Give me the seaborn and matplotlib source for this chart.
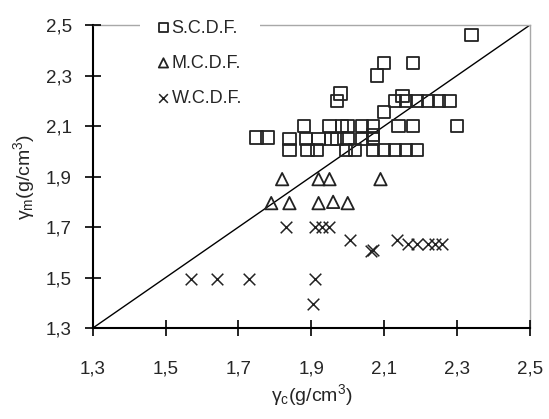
import matplotlib
matplotlib.use("Agg")
import matplotlib.pyplot as plt
import seaborn as sns
import pandas as pd

# --- data ------------------------------------------------------------------
scdf_x = [2.34, 2.10, 2.18, 2.08, 1.98, 1.97,
          2.13, 2.15, 2.16, 2.19, 2.22, 2.25, 2.28, 2.10,
          1.88, 1.95, 1.985, 2.00, 2.04, 2.07, 2.14, 2.18, 2.30,
          1.75, 1.78, 1.84, 1.885, 1.92, 1.955, 1.97, 2.00, 2.04, 2.07, 2.07,
          1.84, 1.89, 1.915, 1.995, 2.02, 2.07, 2.10, 2.13, 2.16, 2.19]
scdf_y = [2.46, 2.35, 2.35, 2.30, 2.23, 2.20,
          2.20, 2.22, 2.20, 2.20, 2.20, 2.20, 2.20, 2.155,
          2.10, 2.10, 2.10, 2.10, 2.10, 2.10, 2.10, 2.10, 2.10,
          2.055, 2.055, 2.05, 2.05, 2.05, 2.05, 2.05, 2.05, 2.05, 2.05, 2.065,
          2.005, 2.005, 2.005, 2.005, 2.005, 2.005, 2.005, 2.005, 2.005, 2.005]

mcdf_x = [1.82, 1.92, 1.95, 2.09, 1.79, 1.84, 1.92, 1.96, 2.00]
mcdf_y = [1.89, 1.89, 1.89, 1.89, 1.795, 1.795, 1.795, 1.80, 1.795]

wcdf_x = [1.57, 1.64, 1.73, 1.83, 1.91, 1.93, 1.95, 1.91, 1.905,
          2.005, 2.065, 2.07, 2.135, 2.165, 2.19, 2.22, 2.24, 2.26]
wcdf_y = [1.495, 1.495, 1.495, 1.70, 1.70, 1.70, 1.70, 1.495, 1.395,
          1.65, 1.605, 1.61, 1.65, 1.635, 1.635, 1.635, 1.635, 1.635]

series_names = ["S.C.D.F.", "M.C.D.F.", "W.C.D.F."]
tick_values = [1.3, 1.5, 1.7, 1.9, 2.1, 2.3, 2.5]
tick_labels = ["1,3", "1,5", "1,7", "1,9", "2,1", "2,3", "2,5"]

df = pd.concat([
    pd.DataFrame({"gc": scdf_x, "gm": scdf_y, "tipo": series_names[0]}),
    pd.DataFrame({"gc": mcdf_x, "gm": mcdf_y, "tipo": series_names[1]}),
    pd.DataFrame({"gc": wcdf_x, "gm": wcdf_y, "tipo": series_names[2]}),
])

sns.set_style("ticks")
plt.rcParams["font.family"] = ["Liberation Sans", "DejaVu Sans"]
plt.rcParams["mathtext.default"] = "regular"
plt.rcParams["axes.axisbelow"] = False

fig = plt.figure(figsize=(5.49, 4.19), dpi=100)
ax = fig.add_axes([0.169, 0.217, 0.796, 0.723])

markers = {"S.C.D.F.": "s", "M.C.D.F.": "^", "W.C.D.F.": "x"}
sizes = {"S.C.D.F.": 80, "M.C.D.F.": 80, "W.C.D.F.": 70}
for name in series_names:
    sub = df[df["tipo"] == name]
    if markers[name] == "x":
        sns.scatterplot(data=sub, x="gc", y="gm", marker="x", s=sizes[name],
                        color="#222222", linewidth=1.1, label=name, ax=ax, zorder=3)
    else:
        sns.scatterplot(data=sub, x="gc", y="gm", marker=markers[name], s=sizes[name],
                        facecolor="none", edgecolor="#222222", linewidth=1.3,
                        label=name, ax=ax, zorder=3)

# linha y = x
ax.plot([tick_values[0], tick_values[-1]], [tick_values[0], tick_values[-1]],
        color="black", linewidth=1.0, zorder=2)

ax.set_xlim(1.3, 2.5)
ax.set_ylim(1.3, 2.5)
ax.set_xticks(tick_values)
ax.set_xticklabels(tick_labels, fontsize=13.5)
ax.set_yticks(tick_values)
ax.set_yticklabels(tick_labels, fontsize=13.5)
ax.tick_params(axis="both", which="major", direction="inout", length=12,
               width=1.2, color="black", bottom=True, left=True,
               top=False, right=False)
ax.tick_params(axis="y", pad=9)
ax.tick_params(axis="x", pad=17)

for side in ["left", "bottom"]:
    ax.spines[side].set_color("black")
    ax.spines[side].set_linewidth(1.5)
for side in ["top", "right"]:
    ax.spines[side].set_color("#a8a8a8")
    ax.spines[side].set_linewidth(1.0)

ax.set_xlabel("γ$_c$(g/cm$^3$)", fontsize=14, labelpad=4)
ax.set_ylabel("γ$_m$(g/cm$^3$)", fontsize=14, labelpad=6)

leg = ax.legend(loc="upper left", bbox_to_anchor=(0.108, 1.078), frameon=True,
                fancybox=False, edgecolor="none", facecolor="white", framealpha=1,
                fontsize=13, markerscale=0.75, handlelength=0.6, handletextpad=0.15,
                labelspacing=1.0, borderpad=1.0, borderaxespad=0)

fig.savefig("out.png", dpi=100, facecolor="white")
plt.close(fig)
